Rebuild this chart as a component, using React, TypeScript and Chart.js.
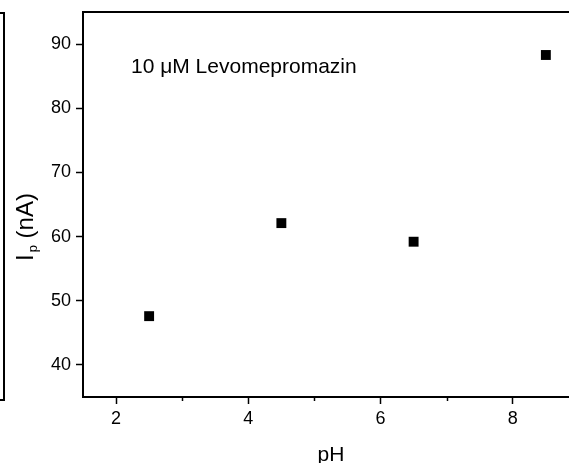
import React, { useEffect, useRef } from "react";
import { Chart, registerables } from "chart.js";

Chart.register(...registerables);

const phValues = [2.5, 4.5, 6.5, 8.5];
const currentValues = [47.6, 62.1, 59.2, 88.3];
const xMajorTicks = [2, 4, 6, 8];
const xMinorTicks = [3, 5, 7];
const yMajorTicks = [40, 50, 60, 70, 80, 90];
const annotation = "10 μM Levomepromazin";
const xTitle = "pH";
const yTitleMain = "I";
const yTitleSub = "p";
const yTitleRest = " (nA)";

const FONT = "'Liberation Sans', Arial, sans-serif";

const decorPlugin = {
  id: "decor",
  afterDraw(chart: any) {
    const ctx = chart.ctx;
    const area = chart.chartArea;
    const xs = chart.scales.x;
    ctx.save();
    ctx.strokeStyle = "#000";
    // top border
    ctx.lineWidth = 2;
    ctx.beginPath();
    ctx.moveTo(area.left - 1, area.top);
    ctx.lineTo(chart.width, area.top);
    ctx.stroke();
    // neighbouring panel edge (cropped)
    ctx.beginPath();
    ctx.moveTo(0, 13);
    ctx.lineTo(4, 13);
    ctx.lineTo(4, 400);
    ctx.lineTo(0, 400);
    ctx.stroke();
    // minor x ticks
    ctx.lineWidth = 1.5;
    for (const v of xMinorTicks) {
      const px = Math.round(xs.getPixelForValue(v)) + 0.5;
      ctx.beginPath();
      ctx.moveTo(px, area.bottom);
      ctx.lineTo(px, area.bottom + 4);
      ctx.stroke();
    }
    ctx.fillStyle = "#000";
    // annotation
    ctx.font = `21px ${FONT}`;
    ctx.textAlign = "left";
    ctx.textBaseline = "alphabetic";
    ctx.fillText(annotation, 131, 73);
    // x title
    ctx.font = `21px ${FONT}`;
    ctx.textAlign = "center";
    ctx.fillText(xTitle, 331, 461);
    // y title with subscript
    ctx.translate(33, 261);
    ctx.rotate(-Math.PI / 2);
    ctx.textAlign = "left";
    ctx.font = `24px ${FONT}`;
    ctx.fillText(yTitleMain, 0, 0);
    let off = ctx.measureText(yTitleMain).width + 2;
    ctx.font = `13px ${FONT}`;
    ctx.fillText(yTitleSub, off, 4);
    off += ctx.measureText(yTitleSub).width;
    ctx.font = `24px ${FONT}`;
    ctx.fillText(yTitleRest, off, 0);
    ctx.restore();
  },
};

export default function App() {
  const ref = useRef<HTMLCanvasElement | null>(null);
  useEffect(() => {
    if (!ref.current) return;
    const chart = new Chart(ref.current, {
      type: "scatter",
      data: {
        datasets: [
          {
            data: phValues.map((x, i) => ({ x, y: currentValues[i] })),
            pointStyle: "rect",
            pointRadius: 7,
            pointHoverRadius: 7,
            backgroundColor: "#000",
            borderColor: "#000",
            borderWidth: 0,
          },
        ],
      },
      options: {
        responsive: false,
        animation: false,
        events: [],
        layout: { autoPadding: false, padding: { top: 12, right: 0, left: 0, bottom: 0 } },
        plugins: { legend: { display: false }, tooltip: { enabled: false } },
        scales: {
          x: {
            type: "linear",
            min: 1.5,
            max: 8.85,
            afterBuildTicks: (s: any) => {
              s.ticks = xMajorTicks.map((v) => ({ value: v }));
            },
            afterFit: (s: any) => {
              s.height = 66;
              s.paddingLeft = 0;
              s.paddingRight = 0;
            },
            border: { display: true, color: "#000", width: 2 },
            grid: {
              display: true,
              drawOnChartArea: false,
              drawTicks: true,
              tickLength: 7,
              tickColor: "#000",
              tickWidth: 1.5,
            },
            ticks: {
              color: "#000",
              font: { family: FONT, size: 18 },
              padding: 4,
              maxRotation: 0,
            },
          },
          y: {
            type: "linear",
            min: 35,
            max: 95,
            afterBuildTicks: (s: any) => {
              s.ticks = yMajorTicks.map((v) => ({ value: v }));
            },
            afterFit: (s: any) => {
              s.width = 83;
              s.paddingTop = 0;
              s.paddingBottom = 0;
            },
            border: { display: true, color: "#000", width: 2 },
            grid: {
              display: true,
              drawOnChartArea: false,
              drawTicks: true,
              tickLength: 7,
              tickColor: "#000",
              tickWidth: 1.5,
            },
            ticks: {
              color: "#000",
              font: { family: FONT, size: 18 },
              padding: 5,
            },
          },
        },
      },
      plugins: [decorPlugin],
    });
    return () => chart.destroy();
  }, []);
  return (
    <div style={{ position: "fixed", left: 0, top: 0, width: 569, height: 463, background: "#fff" }}>
      <canvas ref={ref} width={569} height={463} />
    </div>
  );
}
